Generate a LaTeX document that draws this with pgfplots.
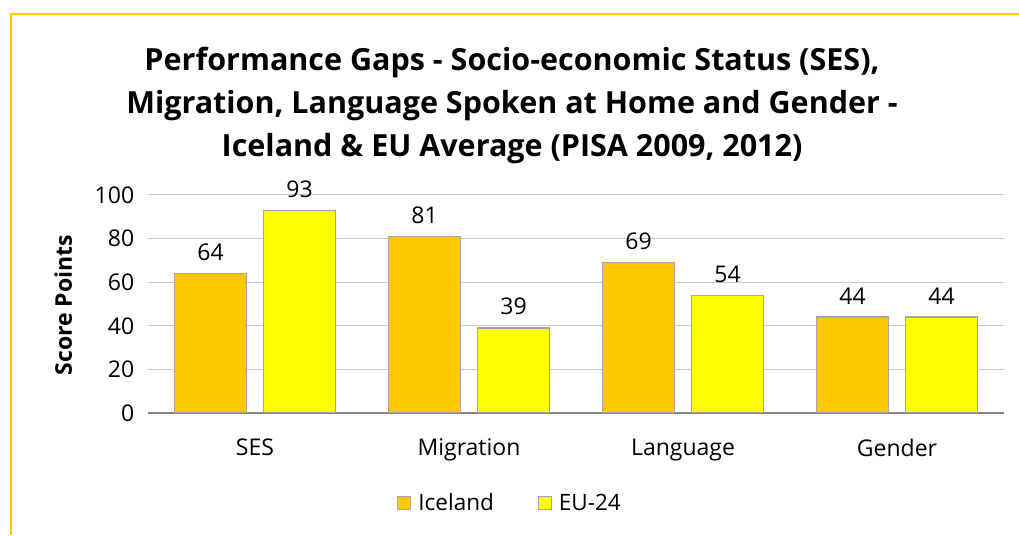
\documentclass[border=0pt]{standalone}
\usepackage{pgfplots}
\pgfplotsset{compat=1.18}
\usepackage{fontspec}
\setmainfont{Open Sans}
\definecolor{ice}{RGB}{255,200,0}
\definecolor{eu}{RGB}{255,255,0}
\definecolor{framec}{RGB}{255,204,0}
\definecolor{bord}{RGB}{166,166,166}
\definecolor{gridc}{RGB}{200,200,200}
\definecolor{axl}{RGB}{134,134,134}
\begin{document}
\begin{tikzpicture}[x=1pt,y=1pt]
\path[use as bounding box] (0,0) rectangle (1019,535);
\draw[framec, line width=1.5pt] (11,0) -- (11,521) -- (1019,521);
\node[font=\fontsize{30.5}{43}\selectfont\bfseries, align=center] at (512,429) {Performance Gaps - Socio-economic Status (SES),\\ Migration, Language Spoken at Home and Gender -\\ Iceland \& EU Average (PISA 2009, 2012)};
\begin{axis}[
  at={(148pt,122pt)}, anchor=south west,
  scale only axis, width=856pt, height=218pt,
  ymin=0, ymax=100, xmin=-0.5, xmax=3.5,
  ybar=17pt, bar width=72pt,
  /pgf/number format/assume math mode=true,
  axis x line*=bottom, axis y line*=left,
  y axis line style={draw=none},
  x axis line style={axl, line width=1.2pt},
  ytick={0,20,40,60,80,100},
  ytick style={draw=none},
  ymajorgrids, grid style={gridc, line width=1pt},
  xtick={0,1,2,3},
  xticklabels={SES,Migration,Language,Gender},
  xtick style={draw=none},
  minor xtick={-0.5,0.5,1.5,2.5,3.5},
  minor tick length=7pt, tick align=outside,
  minor x tick style={axl, line width=1.2pt},
  tick label style={font=\fontsize{23}{27}\selectfont},
  yticklabel style={xshift=-6pt},
  xticklabel style={yshift=-18pt},
  ylabel={Score Points},
  ylabel style={font=\fontsize{23}{27}\selectfont\bfseries, at={(axis description cs:-0.099,0.495)}, anchor=center},
  nodes near coords,
  every node near coord/.append style={font=\fontsize{23}{27}\selectfont, yshift=9pt, black},
  legend style={at={(0.423,-0.413)}, anchor=center, draw=none, legend columns=2,
    font=\fontsize{22.5}{27}\selectfont,
    /tikz/every odd column/.append style={column sep=5pt},
    /tikz/every even column/.append style={column sep=42pt}},
  legend image code/.code={\draw[#1, draw=bord, line width=1pt] (0pt,-6.5pt) rectangle (13pt,6.5pt);},
]
\addplot[fill=ice, draw=bord, line width=1.2pt] coordinates {(0,64) (1,81) (2,69) (3,44)};
\addplot[fill=eu, draw=bord, line width=1.2pt] coordinates {(0,93) (1,39) (2,54) (3,44)};
\legend{Iceland, EU-24}
\end{axis}
\end{tikzpicture}
\end{document}
